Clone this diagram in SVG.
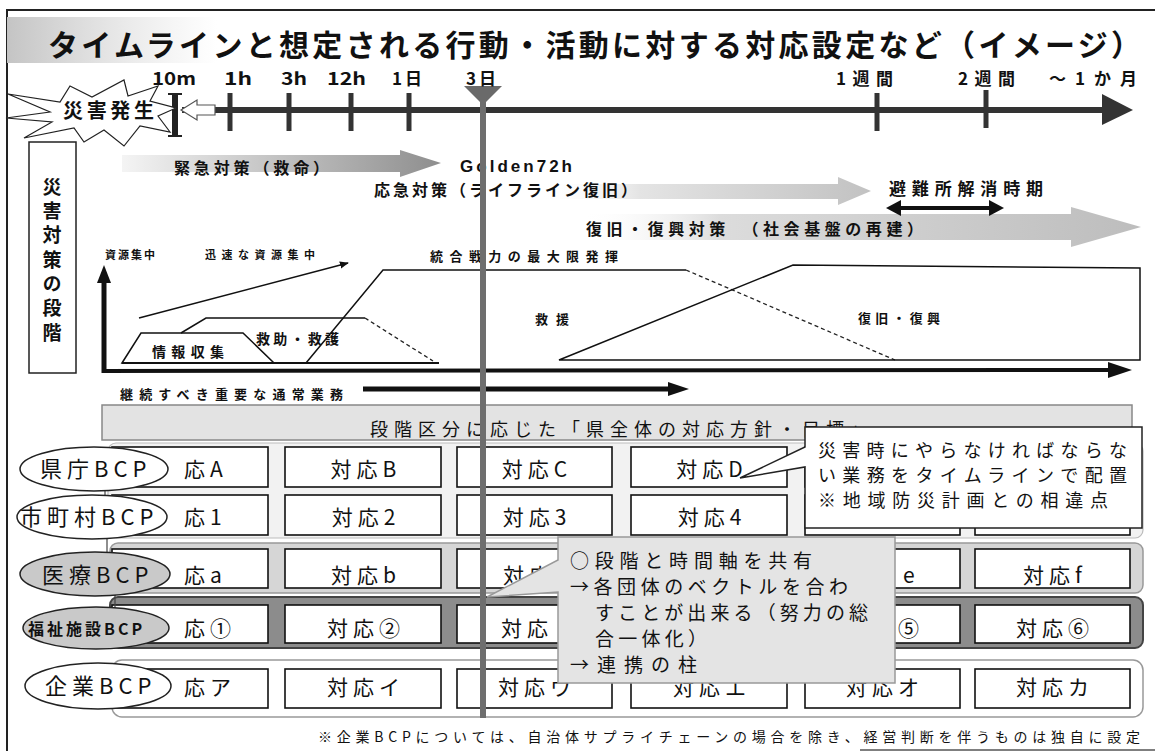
<svg xmlns="http://www.w3.org/2000/svg" width="1155" height="751" viewBox="0 0 1155 751">
<defs>
<linearGradient id="gTitle" x1="0" x2="1" y1="0" y2="0"><stop offset="0" stop-color="#c4c4c4"/><stop offset="1" stop-color="#d6d6d6" stop-opacity="0"/></linearGradient>
<linearGradient id="gA1" x1="0" x2="1" y1="0" y2="0"><stop offset="0" stop-color="#f4f4f4"/><stop offset="1" stop-color="#8e8e8e"/></linearGradient>
<linearGradient id="gA2" x1="0" x2="1" y1="0" y2="0"><stop offset="0" stop-color="#ffffff" stop-opacity="0"/><stop offset="0.3" stop-color="#e4e4e4"/><stop offset="1" stop-color="#c2c2c2"/></linearGradient>
<linearGradient id="gA3" x1="0" x2="1" y1="0" y2="0"><stop offset="0" stop-color="#ffffff" stop-opacity="0"/><stop offset="0.25" stop-color="#dcdcdc"/><stop offset="1" stop-color="#bdbdbd"/></linearGradient>
<marker id="ah" viewBox="0 0 10 10" refX="9" refY="5" markerWidth="9" markerHeight="9" orient="auto" markerUnits="userSpaceOnUse"><path d="M0,1 L10,5 L0,9 z" fill="#111"/></marker>
</defs>
<style>
text{font-family:"Noto Sans CJK JP","Noto Sans",sans-serif;fill:#111}
.b{font-weight:700}
.lat{font-family:"Liberation Sans",Arial,sans-serif}
.box{fill:#fff;stroke:#111;stroke-width:1.6}
.bt{font-size:21px;text-anchor:middle;letter-spacing:5px}
.bs{font-size:21px;letter-spacing:5px}
.el{stroke:#222;stroke-width:1.5}
.et{font-size:22px;letter-spacing:5px}
.ln{fill:none;stroke:#111;stroke-width:1.5}
.dash{fill:none;stroke:#222;stroke-width:1.3;stroke-dasharray:4 3}
.tick{stroke:#333;stroke-width:5}
.tl{font-size:17px;font-weight:700}
.sm{font-size:13px;font-weight:700}
.co{font-size:19px}
.c1{font-size:18px}
</style>
<rect width="1155" height="751" fill="#fff"/>
<path d="M7,751 V10 H1155" fill="none" stroke="#222" stroke-width="2"/>
<line x1="860" y1="750" x2="1155" y2="750" stroke="#555" stroke-width="1.5"/>

<g id="title">
<rect x="7" y="17" width="210" height="46" fill="url(#gTitle)"/>
<text x="48" y="56" class="b" font-size="30" textLength="1093" lengthAdjust="spacing">タイムラインと想定される行動・活動に対する対応設定など（イメージ）</text>
</g>

<g id="timeline">
<line x1="182" y1="110" x2="1106" y2="110" stroke="#333" stroke-width="6"/>
<polygon points="1102,94 1133,110 1102,125" fill="#333"/>
<g class="tick">
<line x1="230" y1="93" x2="230" y2="131"/>
<line x1="289" y1="93" x2="289" y2="131"/>
<line x1="351" y1="93" x2="351" y2="131"/>
<line x1="409" y1="93" x2="409" y2="131"/>
<line x1="877" y1="93" x2="877" y2="131"/>
<line x1="986" y1="90" x2="986" y2="128"/>
</g>
<rect x="172" y="93" width="6" height="44" fill="#222"/>
<line x1="168" y1="94" x2="182" y2="94" stroke="#222" stroke-width="2"/>
<line x1="168" y1="136" x2="182" y2="136" stroke="#222" stroke-width="2"/>
<polygon points="181,110 197,100 197,105 215,105 215,115 197,115 197,120" fill="#fff" stroke="#555" stroke-width="1.2"/>
<polygon points="464,86 502,86 483,105" fill="#6a6a6a"/>
<text x="152" y="85" class="tl" textLength="44" lengthAdjust="spacingAndGlyphs">10m</text>
<text x="224" y="85" class="tl" textLength="28" lengthAdjust="spacingAndGlyphs">1h</text>
<text x="281" y="85" class="tl" textLength="26" lengthAdjust="spacingAndGlyphs">3h</text>
<text x="327" y="85" class="tl" textLength="39" lengthAdjust="spacingAndGlyphs">12h</text>
<text x="392" y="85" class="tl" textLength="30" lengthAdjust="spacing">1日</text>
<text x="466" y="85" class="tl" textLength="30" lengthAdjust="spacing">3日</text>
<text x="836" y="85" class="tl" textLength="57" lengthAdjust="spacing">1週間</text>
<text x="958" y="85" class="tl" textLength="57" lengthAdjust="spacing">2週間</text>
<text x="1049" y="85" class="tl" textLength="88" lengthAdjust="spacing">～1か月</text>
</g>

<g id="disaster">
<polygon points="8,94 60,102 70,86 92,97 124,80 128,96 158,86 150,101 176,108 158,116 170,132 140,126 124,146 104,130 84,142 74,128 24,138 52,122 6,118 50,112" fill="#fff" stroke="#222" stroke-width="1.2"/>
<text x="63" y="118" class="b" font-size="20" textLength="91" lengthAdjust="spacing">災害発生</text>
</g>

<g id="stage-label">
<rect x="29" y="142" width="47" height="231" fill="#fff" stroke="#222" stroke-width="1.5"/>
<text x="52" y="177" class="b" font-size="19" writing-mode="vertical-rl" letter-spacing="5.3">災害対策の段階</text>
</g>

<g id="phase-arrows">
<polygon points="122,155 400,155 400,150 441,163 400,177 400,172 122,172" fill="url(#gA1)"/>
<text x="174" y="174" font-size="16" class="b" textLength="155" lengthAdjust="spacing">緊急対策（救命）</text>
<text x="460" y="172" class="b lat" font-size="17" textLength="112" lengthAdjust="spacing">Golden72h</text>
<polygon points="540,184 838,184 838,177 871,191 838,205 838,199 540,199" fill="url(#gA2)"/>
<text x="374" y="196" font-size="16" class="b" textLength="263" lengthAdjust="spacing">応急対策（ライフライン復旧）</text>
<polygon points="580,214 1071,214 1071,207 1141,227 1071,247 1071,240 580,240" fill="url(#gA3)"/>
<text x="586" y="235" font-size="16" class="b" textLength="337" lengthAdjust="spacing">復旧・復興対策　（社会基盤の再建）</text>
<text x="889" y="195" font-size="17" class="b" textLength="154" lengthAdjust="spacing">避難所解消時期</text>
<line x1="896" y1="208" x2="994" y2="208" stroke="#111" stroke-width="4"/>
<polygon points="886,208 901,200 901,216" fill="#111"/>
<polygon points="1004,208 989,200 989,216" fill="#111"/>
</g>

<g id="chart">
<line x1="104" y1="373" x2="104" y2="280" stroke="#111" stroke-width="5"/>
<polygon points="97,283 104,265 111,283" fill="#111"/>
<line x1="102" y1="371" x2="1110" y2="370" stroke="#111" stroke-width="4"/>
<polygon points="1108,362 1132,370 1108,378" fill="#111"/>
<text x="105" y="259" font-size="11" class="b" textLength="50" lengthAdjust="spacing">資源集中</text>
<text x="205" y="259" font-size="11" class="b" textLength="110" lengthAdjust="spacing">迅速な資源集中</text>
<line x1="139" y1="318" x2="348" y2="263" class="ln" marker-end="url(#ah)"/>
<text x="430" y="261" font-size="13" class="b" textLength="188" lengthAdjust="spacing">統合戦力の最大限発揮</text>
<polygon points="122,363 141,333 243,333 274,363" class="ln"/>
<polyline points="181,333 206,318 365,318" class="ln"/>
<line x1="365" y1="318" x2="433" y2="361" class="dash"/>
<line x1="122" y1="363" x2="439" y2="363" stroke="#111" stroke-width="2"/>
<polyline points="306,363 383,270 686,270" class="ln"/>
<line x1="686" y1="270" x2="895" y2="360" class="dash"/>
<polygon points="559,360 793,265 1140,268 1140,360" class="ln"/>
<text x="152" y="357" font-size="14" class="b" textLength="72" lengthAdjust="spacing">情報収集</text>
<text x="256" y="344" font-size="14" class="b" textLength="83" lengthAdjust="spacing">救助・救護</text>
<text x="535" y="324" class="sm" textLength="34" lengthAdjust="spacing">救援</text>
<text x="858" y="323" class="sm" textLength="82" lengthAdjust="spacing">復旧・復興</text>
<text x="120" y="399" class="sm" textLength="223" lengthAdjust="spacing">継続すべき重要な通常業務</text>
<line x1="363" y1="389" x2="672" y2="389" stroke="#111" stroke-width="5"/>
<polygon points="668,382 689,389 668,396" fill="#111"/>
</g>

<g id="policy">
<rect x="102" y="405" width="1030" height="35" fill="#e3e3e3" stroke="#888" stroke-width="1.5"/>
<text x="370" y="436" font-size="18" textLength="498" lengthAdjust="spacing">段階区分に応じた「県全体の対応方針・目標」</text>
</g>

<g id="row-frames">
<rect x="108" y="443" width="1035" height="95" rx="8" fill="#f2f2f2" stroke="#bbb" stroke-width="1.2"/>
<rect x="110" y="543" width="1033" height="50" rx="8" fill="#d6d6d6" stroke="#999" stroke-width="1.5"/>
<rect x="110" y="597" width="1033" height="51" rx="8" fill="#8c8c8c" stroke="#444" stroke-width="2"/>
<rect x="112" y="660" width="1031" height="57" rx="10" fill="#fff" stroke="#999" stroke-width="1.5"/>
</g>

<g id="row1">
<rect class="box" x="112" y="447" width="156" height="40"/><rect class="box" x="285" y="447" width="156" height="40"/><rect class="box" x="457" y="447" width="155" height="40"/><rect class="box" x="631" y="447" width="156" height="40"/><rect class="box" x="805" y="447" width="155" height="40"/><rect class="box" x="975" y="447" width="155" height="40"/>
<text class="bs" x="184" y="477">応A</text><text class="bt" x="366" y="477">対応B</text><text class="bt" x="537" y="477">対応C</text><text class="bt" x="712" y="477">対応D</text>
</g>
<g id="row2">
<rect class="box" x="112" y="495" width="156" height="40"/><rect class="box" x="285" y="495" width="156" height="40"/><rect class="box" x="457" y="495" width="155" height="40"/><rect class="box" x="631" y="495" width="156" height="40"/><rect class="box" x="805" y="495" width="155" height="40"/><rect class="box" x="975" y="495" width="155" height="40"/>
<text class="bs" x="184" y="525">応1</text><text class="bt" x="366" y="525">対応2</text><text class="bt" x="537" y="525">対応3</text><text class="bt" x="712" y="525">対応4</text>
</g>
<g id="row3">
<rect class="box" x="112" y="549" width="156" height="39"/><rect class="box" x="285" y="549" width="156" height="39"/><rect class="box" x="457" y="549" width="155" height="39"/><rect class="box" x="631" y="549" width="156" height="39"/><rect class="box" x="805" y="549" width="155" height="39"/><rect class="box" x="975" y="549" width="155" height="39"/>
<text class="bs" x="184" y="583">応a</text><text class="bt" x="366" y="583">対応b</text><text class="bs" x="503" y="583">対応</text><text class="bs" x="903" y="583">e</text><text class="bt" x="1055" y="583">対応f</text>
</g>
<g id="row4">
<rect class="box" x="112" y="605" width="156" height="38"/><rect class="box" x="285" y="605" width="156" height="38"/><rect class="box" x="457" y="605" width="155" height="38"/><rect class="box" x="631" y="605" width="156" height="38"/><rect class="box" x="805" y="605" width="155" height="38"/><rect class="box" x="975" y="605" width="155" height="38"/>
<text class="bs" x="184" y="636">応①</text><text class="bt" x="366" y="636">対応②</text><text class="bs" x="501" y="636">対応</text><text class="bs" x="898" y="636">⑤</text><text class="bt" x="1055" y="636">対応⑥</text>
</g>
<g id="row5">
<rect class="box" x="112" y="669" width="156" height="39"/><rect class="box" x="285" y="669" width="156" height="39"/><rect class="box" x="457" y="669" width="155" height="39"/><rect class="box" x="631" y="669" width="156" height="39"/><rect class="box" x="805" y="669" width="155" height="39"/><rect class="box" x="975" y="669" width="155" height="39"/>
<text class="bs" x="184" y="695">応ア</text><text class="bt" x="366" y="695">対応イ</text><text class="bt" x="537" y="695">対応ウ</text><text class="bt" x="712" y="695">対応エ</text><text class="bt" x="885" y="695">対応オ</text><text class="bt" x="1055" y="695">対応カ</text>
</g>

<g id="connectors">
<line x1="105" y1="490" x2="105" y2="497" stroke="#444" stroke-width="1.2"/>
<line x1="107" y1="538" x2="107" y2="553" stroke="#444" stroke-width="1.2"/>
<line x1="115" y1="595" x2="115" y2="608" stroke="#444" stroke-width="1.2"/>
</g>

<g id="bcp-pref"><ellipse cx="94" cy="469" rx="74" ry="22" fill="#fff" class="el"/><text x="40" y="477" class="et">県庁BCP</text></g>
<g id="bcp-city"><ellipse cx="92" cy="517" rx="75" ry="22" fill="#fff" class="el"/><text x="20" y="525" class="et" letter-spacing="4">市町村BCP</text></g>
<g id="bcp-medical"><ellipse cx="95" cy="574" rx="75" ry="22" fill="#c9c9c9" class="el"/><text x="42" y="583" class="et">医療BCP</text></g>
<g id="bcp-welfare"><ellipse cx="96" cy="628" rx="73" ry="21" fill="#c9c9c9" class="el"/><text x="28" y="635" font-size="16" class="b" letter-spacing="3">福祉施設BCP</text></g>
<g id="bcp-company"><ellipse cx="98" cy="686" rx="73" ry="23" fill="#fff" class="el"/><text x="45" y="694" class="et">企業BCP</text></g>

<g id="day3-line">
<line x1="483" y1="100" x2="483" y2="718" stroke="#6e6e6e" stroke-width="6"/>
</g>

<g id="callout-timeline">
<path d="M805,427 H1142 V528 H805 V467 L740,478 L805,447 Z" fill="#fff" stroke="#222" stroke-width="1.5"/>
<text x="818" y="457" class="c1" textLength="309" lengthAdjust="spacing">災害時にやらなければならな</text>
<text x="818" y="482" class="c1" textLength="309" lengthAdjust="spacing">い業務をタイムラインで配置</text>
<text x="818" y="507" class="c1" textLength="290" lengthAdjust="spacing">※地域防災計画との相違点</text>
</g>

<g id="callout-share">
<path d="M558,537 H895 V683 H558 V592 L487,597 L558,560 Z" fill="#e4e4e4" stroke="#999" stroke-width="1.5"/>
<text x="570" y="568" class="co" textLength="242" lengthAdjust="spacing">○段階と時間軸を共有</text>
<text x="570" y="594" class="co" textLength="278" lengthAdjust="spacing">→各団体のベクトルを合わ</text>
<text x="595" y="620" class="co" textLength="273" lengthAdjust="spacing">すことが出来る（努力の総</text>
<text x="595" y="646" class="co" textLength="112" lengthAdjust="spacing">合一体化）</text>
<text x="570" y="672" class="co" textLength="127" lengthAdjust="spacing">→連携の柱</text>
</g>

<g id="footnote">
<text x="318" y="742" font-size="14" textLength="822" lengthAdjust="spacing">※企業BCPについては、自治体サプライチェーンの場合を除き、経営判断を伴うものは独自に設定</text>
</g>
</svg>
